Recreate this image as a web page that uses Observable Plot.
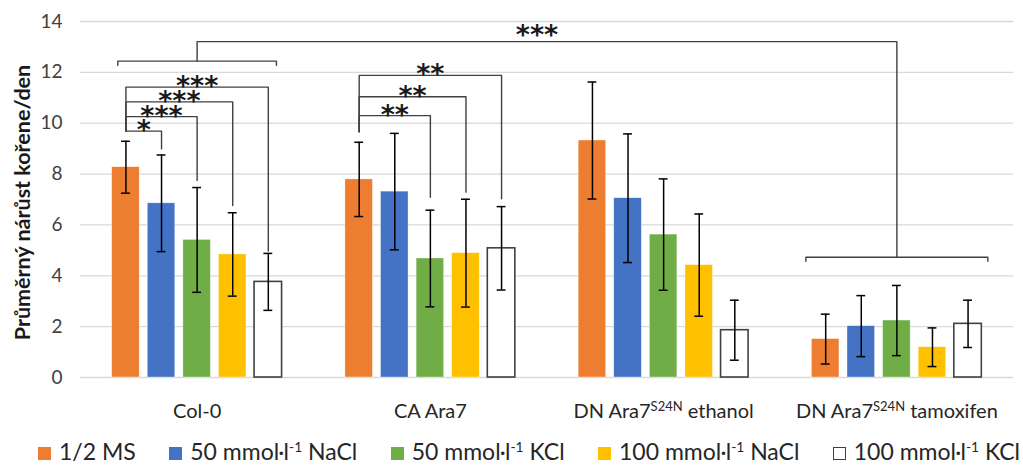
<!DOCTYPE html>
<html><head><meta charset="utf-8">
<script src="https://cdn.jsdelivr.net/npm/d3@7"></script>
<script src="https://cdn.jsdelivr.net/npm/@observablehq/plot@0.6"></script>
<style>
html,body{margin:0;padding:0;background:#fff;overflow:hidden;}
body{width:1023px;height:466px;font-family:Lato,"Open Sans",sans-serif;}
#chart svg{display:block;}
#legend{display:flex;justify-content:space-between;font-size:23px;color:#262626;line-height:22px;height:26px;padding:0 3px 0 38px;}
.item{display:flex;align-items:baseline;white-space:nowrap;}
.sw{display:inline-block;width:13px;height:13px;margin-right:8px;box-sizing:border-box;}
.item sup{font-size:0.6em;vertical-align:0.6em;line-height:0;}
</style></head><body>
<div id="chart"></div><div id="legend"></div>
<script>
// categories
const groups = ["Col-0", "CA Ara7", "DN Ara7S24N ethanol", "DN Ara7S24N tamoxifen"];
const seriesNames = ["1/2 MS", "50 mmol·l-1 NaCl", "50 mmol·l-1 KCl", "100 mmol·l-1 NaCl", "100 mmol·l-1 KCl"];
const seriesColors = ["#ED7D31", "#4472C4", "#70AD47", "#FFC000", "#FFFFFF"];
// means per group (one value per series)
const meanCol0 = [8.27, 6.85, 5.41, 4.84, 3.76];
const meanCA   = [7.79, 7.31, 4.68, 4.89, 5.08];
const meanEth  = [9.32, 7.05, 5.62, 4.42, 1.86];
const meanTam  = [1.51, 2.02, 2.24, 1.19, 2.11];
// standard deviations
const sdCol0 = [1.02, 1.90, 2.06, 1.64, 1.12];
const sdCA   = [1.46, 2.29, 1.90, 2.12, 1.64];
const sdEth  = [2.30, 2.53, 2.19, 2.01, 1.18];
const sdTam  = [0.98, 1.20, 1.38, 0.76, 0.93];
// y ticks
const yTicks = [0, 2, 4, 6, 8, 10, 12, 14];
const yTitle = "Průměrný nárůst kořene/den";
// within-group significance brackets (from series 0 to series bracketTo)
const bracketGroup    = [0, 0, 0, 0, 1, 1, 1];
const bracketTo       = [1, 2, 3, 4, 2, 3, 4];
const bracketLevel    = [9.69, 10.26, 10.84, 11.42, 10.30, 11.04, 11.88];
const bracketLeftEnd  = [9.69, 9.69, 9.69, 9.69, 9.66, 9.66, 9.66];
const bracketRightEnd = [8.99, 7.75, 6.76, 4.97, 7.09, 7.29, 7.03];
const bracketLabel    = ["*", "***", "***", "***", "**", "**", "**"];
// between-group comparison (Col-0 vs tamoxifen)
const sigGroups = [0, 3];
const sigBraceY = [12.44, 4.73];
const sigTopY = 13.21;
const sigLabel = "***";

const means = [meanCol0, meanCA, meanEth, meanTam];
const sds = [sdCol0, sdCA, sdEth, sdTam];
const rows = groups.flatMap((g, gi) => seriesNames.map((s, si) => ({group: g, gi, series: s, si, mean: means[gi][si], sd: sds[gi][si]})));

const STEP = 0.1526, BW = 0.118, CAP = 0.019;
const xc = d => d.gi + (d.si - 2) * STEP;
const sx = (g, s) => g + (s - 2) * STEP;

const bracketRows = bracketGroup.map((g, k) => ({k, g, xl: sx(g, 0), xr: sx(g, bracketTo[k]), level: bracketLevel[k], le: bracketLeftEnd[k], re: bracketRightEnd[k], label: bracketLabel[k]}));
const bracketPts = bracketRows.flatMap(b => [[b.xl, b.le], [b.xl, b.level], [b.xr, b.level], [b.xr, b.re]].map(([x, y]) => ({k: b.k, x, y})));

const braceHalf = [0.34, 0.39], braceTick = 0.16;
const bigPts = [];
sigGroups.forEach((g, i) => {
  const y = sigBraceY[i], h = braceHalf[i];
  [[g - h, y - braceTick], [g - h, y], [g + h, y], [g + h, y - braceTick]].forEach(([x, yy]) => bigPts.push({k: "brace" + i, x, y: yy}));
});
[[sigGroups[0], sigBraceY[0]], [sigGroups[0], sigTopY], [sigGroups[1], sigTopY], [sigGroups[1], sigBraceY[1]]].forEach(([x, y]) => bigPts.push({k: "conn", x, y}));

const lineColor = "#404040";
const starFont = "DejaVu Sans";

const plot = Plot.plot({
  width: 1023, height: 440,
  marginLeft: 80, marginRight: 10, marginTop: 21, marginBottom: 63,
  style: {fontFamily: "Lato, 'Open Sans', sans-serif", fontSize: "19px", color: "#404040", background: "white"},
  x: {domain: [-0.5, 3.5], axis: null},
  y: {domain: [0, 14], axis: null},
  color: {domain: seriesNames, range: seriesColors},
  marks: [
    Plot.ruleY(yTicks, {stroke: "#d9d9d9", strokeWidth: 1.3}),
    Plot.axisY(yTicks, {tickSize: 0, tickPadding: 18, label: null, fontSize: 19}),
    Plot.axisX([0, 1, 2, 3], {tickSize: 0, tickPadding: 26, label: null, fontSize: 20, fill: "#262626", tickFormat: i => groups[i]}),
    Plot.text([yTitle], {frameAnchor: "left", textAnchor: "middle", rotate: -90, dx: -57, dy: 3, fontSize: 21.5, fontWeight: "bold", fill: "#1a1a1a"}),
    Plot.rect(rows.filter(d => d.si < 4), {x1: d => xc(d) - BW / 2, x2: d => xc(d) + BW / 2, y1: 0, y2: "mean", fill: "series", stroke: "white", strokeWidth: 0.6, strokeOpacity: 0.6}),
    Plot.rect(rows.filter(d => d.si === 4), {x1: d => xc(d) - BW / 2, x2: d => xc(d) + BW / 2, y1: 0, y2: "mean", fill: "series", stroke: lineColor, strokeWidth: 1.6}),
    Plot.ruleX(rows, {x: xc, y1: d => d.mean - d.sd, y2: d => d.mean + d.sd, stroke: "black", strokeWidth: 1.5}),
    Plot.ruleY(rows, {y: d => d.mean + d.sd, x1: d => xc(d) - CAP, x2: d => xc(d) + CAP, stroke: "black", strokeWidth: 1.5}),
    Plot.ruleY(rows, {y: d => d.mean - d.sd, x1: d => xc(d) - CAP, x2: d => xc(d) + CAP, stroke: "black", strokeWidth: 1.5}),
    Plot.line(bracketPts, {x: "x", y: "y", z: "k", stroke: lineColor, strokeWidth: 1.4}),
    Plot.line(bigPts, {x: "x", y: "y", z: "k", stroke: lineColor, strokeWidth: 1.4}),
    Plot.text(bracketRows, {x: d => (d.xl + d.xr) / 2, y: "level", text: "label", lineAnchor: "bottom", dy: 8, fontSize: 27, fontWeight: "bold", fontFamily: starFont, fill: "#1a1a1a"}),
    Plot.text([sigLabel], {x: (sigGroups[0] + sigGroups[1]) / 2, y: sigTopY, text: d => d, lineAnchor: "bottom", dy: 2, dx: -10, fontSize: 27, fontWeight: "bold", fontFamily: starFont, fill: "#1a1a1a"})
  ]
});
document.getElementById("chart").appendChild(plot);

// superscript S24N in tick labels
plot.querySelectorAll('g[aria-label="x-axis tick label"] text').forEach(t => {
  const s = t.textContent;
  const i = s.indexOf("S24N");
  if (i < 0) return;
  t.textContent = "";
  const ns = "http://www.w3.org/2000/svg";
  const a = document.createElementNS(ns, "tspan"); a.textContent = s.slice(0, i);
  const b = document.createElementNS(ns, "tspan"); b.textContent = "S24N"; b.setAttribute("dy", "-7"); b.setAttribute("font-size", "13");
  const c = document.createElementNS(ns, "tspan"); c.textContent = s.slice(i + 4); c.setAttribute("dy", "7");
  t.append(a, b, c);
});

// legend
const legend = document.getElementById("legend");
seriesNames.forEach((s, i) => {
  const item = document.createElement("div"); item.className = "item";
  const sw = document.createElement("span"); sw.className = "sw";
  sw.style.background = seriesColors[i];
  if (i === 4) sw.style.border = "1.3px solid #404040";
  const lab = document.createElement("span");
  lab.innerHTML = s.replace("l-1", "l<sup>-1</sup>");
  item.append(sw, lab); legend.append(item);
});
</script>
</body></html>
